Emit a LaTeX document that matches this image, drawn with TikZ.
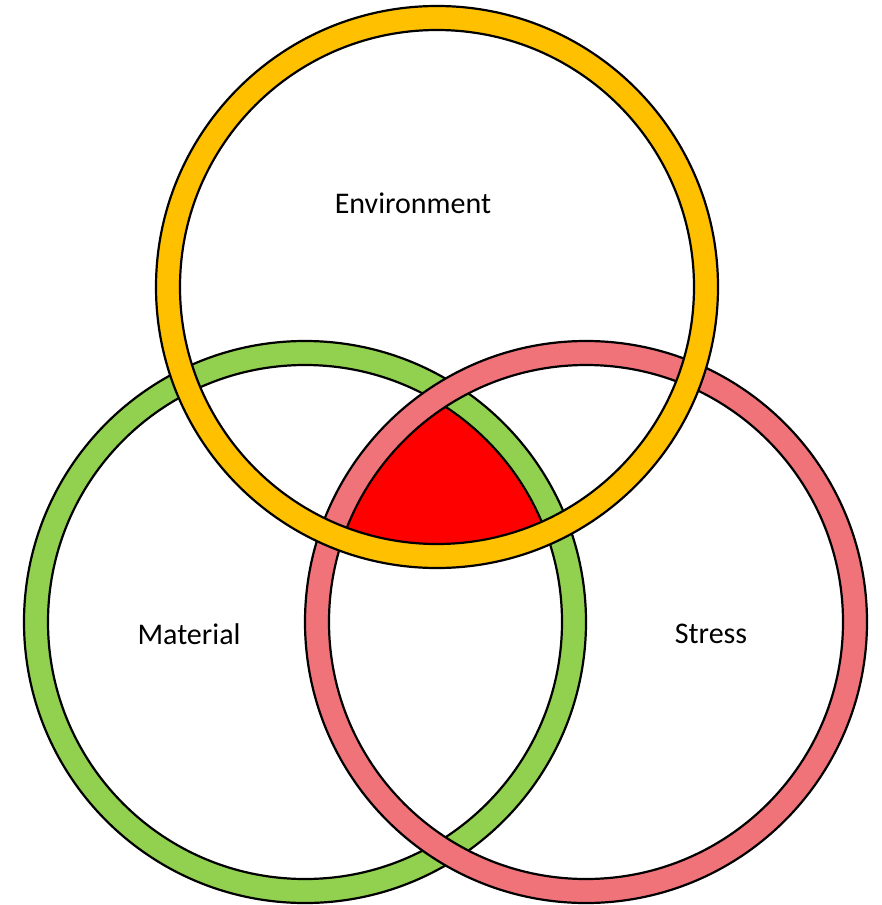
\documentclass[tikz,border=0pt]{standalone}
\usepackage{fontspec}
\setmainfont{Carlito}
\definecolor{ringyellow}{HTML}{FFC000}
\definecolor{ringgreen}{HTML}{92D050}
\definecolor{ringpink}{HTML}{F0737A}
\definecolor{corered}{HTML}{FF0000}
\begin{document}
\begin{tikzpicture}[x=1pt,y=-1pt,
  ringstyle/.style={draw=black,line width=2.2pt,even odd rule},
  lbl/.style={font=\fontsize{30}{36}\selectfont,text=black,inner sep=0pt}]
\useasboundingbox (0,0) rectangle (882,905);
\def\Ro{281}\def\Ri{257}
\coordinate (cy) at (437,287);
\coordinate (cg) at (305,622);
\coordinate (cp) at (586,622);
% red core: intersection of the three inner disks
\begin{scope}
  \clip (cy) circle (\Ri);
  \clip (cg) circle (\Ri);
  \fill[corered] (cp) circle (\Ri);
\end{scope}
% rings
\path[ringstyle,fill=ringgreen] (cg) circle (\Ro) (cg) circle (\Ri);
\path[ringstyle,fill=ringpink] (cp) circle (\Ro) (cp) circle (\Ri);
\path[ringstyle,fill=ringyellow] (cy) circle (\Ro) (cy) circle (\Ri);
% labels
\node[lbl] (env) at (413,203) {Environment};
\node[lbl] (mat) at (189,634) {Material};
\node[lbl] (str) at (711,634) {Stress};
\end{tikzpicture}
\end{document}
